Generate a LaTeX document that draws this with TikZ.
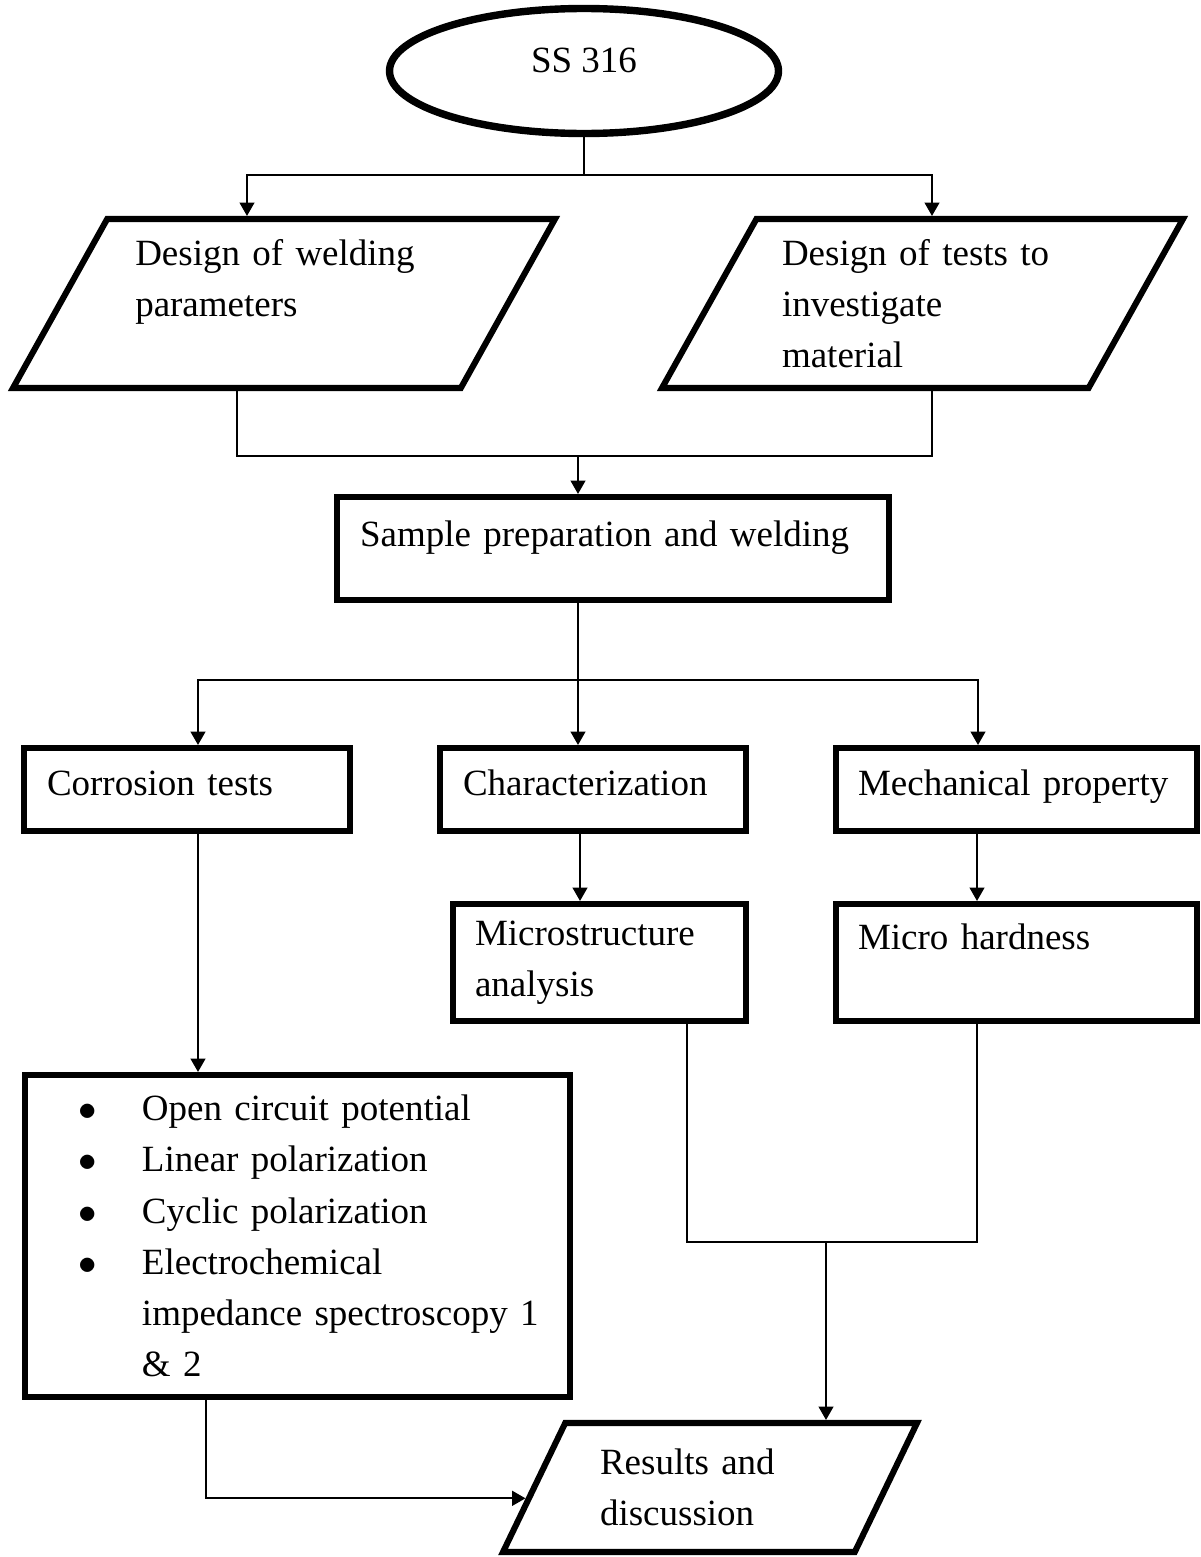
\documentclass[tikz,border=0pt]{standalone}
\usepackage{fontspec}
\setmainfont{Liberation Serif}
\usetikzlibrary{shapes.geometric,arrows.meta,calc}
\newdimen\pxu
\pxu=0.2973pt
\tikzset{%
  oval/.style={%
    ellipse,%
    draw,%
    line width=2.2pt},
  box/.style={%
    rectangle,%
    draw,%
    line width=1.8pt,%
    align=left},
  onerow/.style={%
    text height=7.5pt,%
    text depth=4.2pt},
  para/.style={%
    trapezium,%
    trapezium left angle=58,%
    trapezium right angle=122,%
    trapezium stretches body,%
    draw,%
    line width=1.8pt,%
    align=left},
  conn/.style={line width=0.6pt},
  flow/.style={conn,-{Triangle[length=4pt,width=4.4pt]}}
}
\newcommand{\bul}{\makebox[60\pxu][l]{\hspace{-3\pxu}$\bullet$}}

\begin{document}
\begin{tikzpicture}[x=\pxu,y=-\pxu,every
        node/.style={font=\fontsize{11pt}{15.2pt}\selectfont}]
  \useasboundingbox (0,0) rectangle (1200,1557);
  % material and the two design steps
  \node [oval,minimum width=389\pxu,minimum height=125\pxu,text depth=6.5pt]
    (ss) at (584,71) {SS 316};
  \node [para,minimum width=542\pxu,minimum height=169\pxu,text width=297.5\pxu]
    (wp) at (284,303.5) {Design of welding\\parameters\\\mbox{}};
  \node [para,minimum width=521\pxu,minimum height=169\pxu,text width=281\pxu]
    (wt) at (922.5,303.5) {Design of tests to\\investigate\\material};
  \node [box,minimum width=552\pxu,minimum height=103\pxu,text width=506\pxu,text depth=8.9pt]
    (samp) at (613,548.5) {Sample preparation and welding};
  % three branches
  \node [box,onerow,minimum width=326\pxu,minimum height=83\pxu,text width=280\pxu]
    (cor) at (187,789.5) {Corrosion tests};
  \node [box,onerow,minimum width=306\pxu,minimum height=83\pxu,text width=260\pxu]
    (char) at (593,789.5) {Characterization};
  \node [box,onerow,minimum width=361\pxu,minimum height=83\pxu,text width=317\pxu]
    (mech) at (1016.5,789.5) {Mechanical property};
  \node [box,minimum width=293\pxu,minimum height=117\pxu,text width=249\pxu]
    (micro) at (599.5,962.5) {Microstructure\\analysis};
  \node [box,minimum width=361\pxu,minimum height=117\pxu,text width=317\pxu]
    (hard) at (1016.5,962.5) {Micro hardness\\\mbox{}};
  \node [box,minimum width=545\pxu,minimum height=322\pxu,text width=431\pxu]
    (tests) at (297.5,1236) {%
      \bul Open circuit potential\\
      \bul Linear polarization\\
      \bul Cyclic polarization\\
      \bul Electrochemical\\
      \hspace*{60\pxu}\mbox{impedance spectroscopy 1}\\
      \hspace*{60\pxu}\& 2};
  \node [para,minimum width=414\pxu,minimum height=129\pxu,text width=220\pxu]
    (res) at (710,1487.5) {Results and\\discussion};
  % connectors
  \coordinate (fork1) at (584,175);
  \coordinate (merge1) at (578,456);
  \coordinate (fork2) at (578,680);
  \coordinate (merge2) at (826,1242);
  \draw [conn] (ss) -- (fork1);
  \draw [flow] (fork1) -| (247,0 |- wp.north);
  \draw [flow] (fork1) -| (932,0 |- wt.north);
  \draw [conn] (237,0 |- wp.south) |- (merge1) -| (932,0 |- wt.south);
  \draw [flow] (merge1) -- (merge1 |- samp.north);
  \draw [conn] (fork2 |- samp.south) -- (fork2);
  \draw [flow] (fork2) -| (198,0 |- cor.north);
  \draw [flow] (fork2) -- (fork2 |- char.north);
  \draw [flow] (fork2) -| (978,0 |- mech.north);
  \draw [flow] (198,0 |- cor.south) -- (198,0 |- tests.north);
  \draw [flow] (580,0 |- char.south) -- (580,0 |- micro.north);
  \draw [flow] (977,0 |- mech.south) -- (977,0 |- hard.north);
  \draw [conn] (687,0 |- micro.south) |- (merge2) -| (977,0 |- hard.south);
  \draw [flow] (merge2) -- (merge2 |- res.north);
  \draw [flow] (206,0 |- tests.south)
    |- ($(res.left side)!0.16!(res.bottom left corner)$);
\end{tikzpicture}
\end{document}
